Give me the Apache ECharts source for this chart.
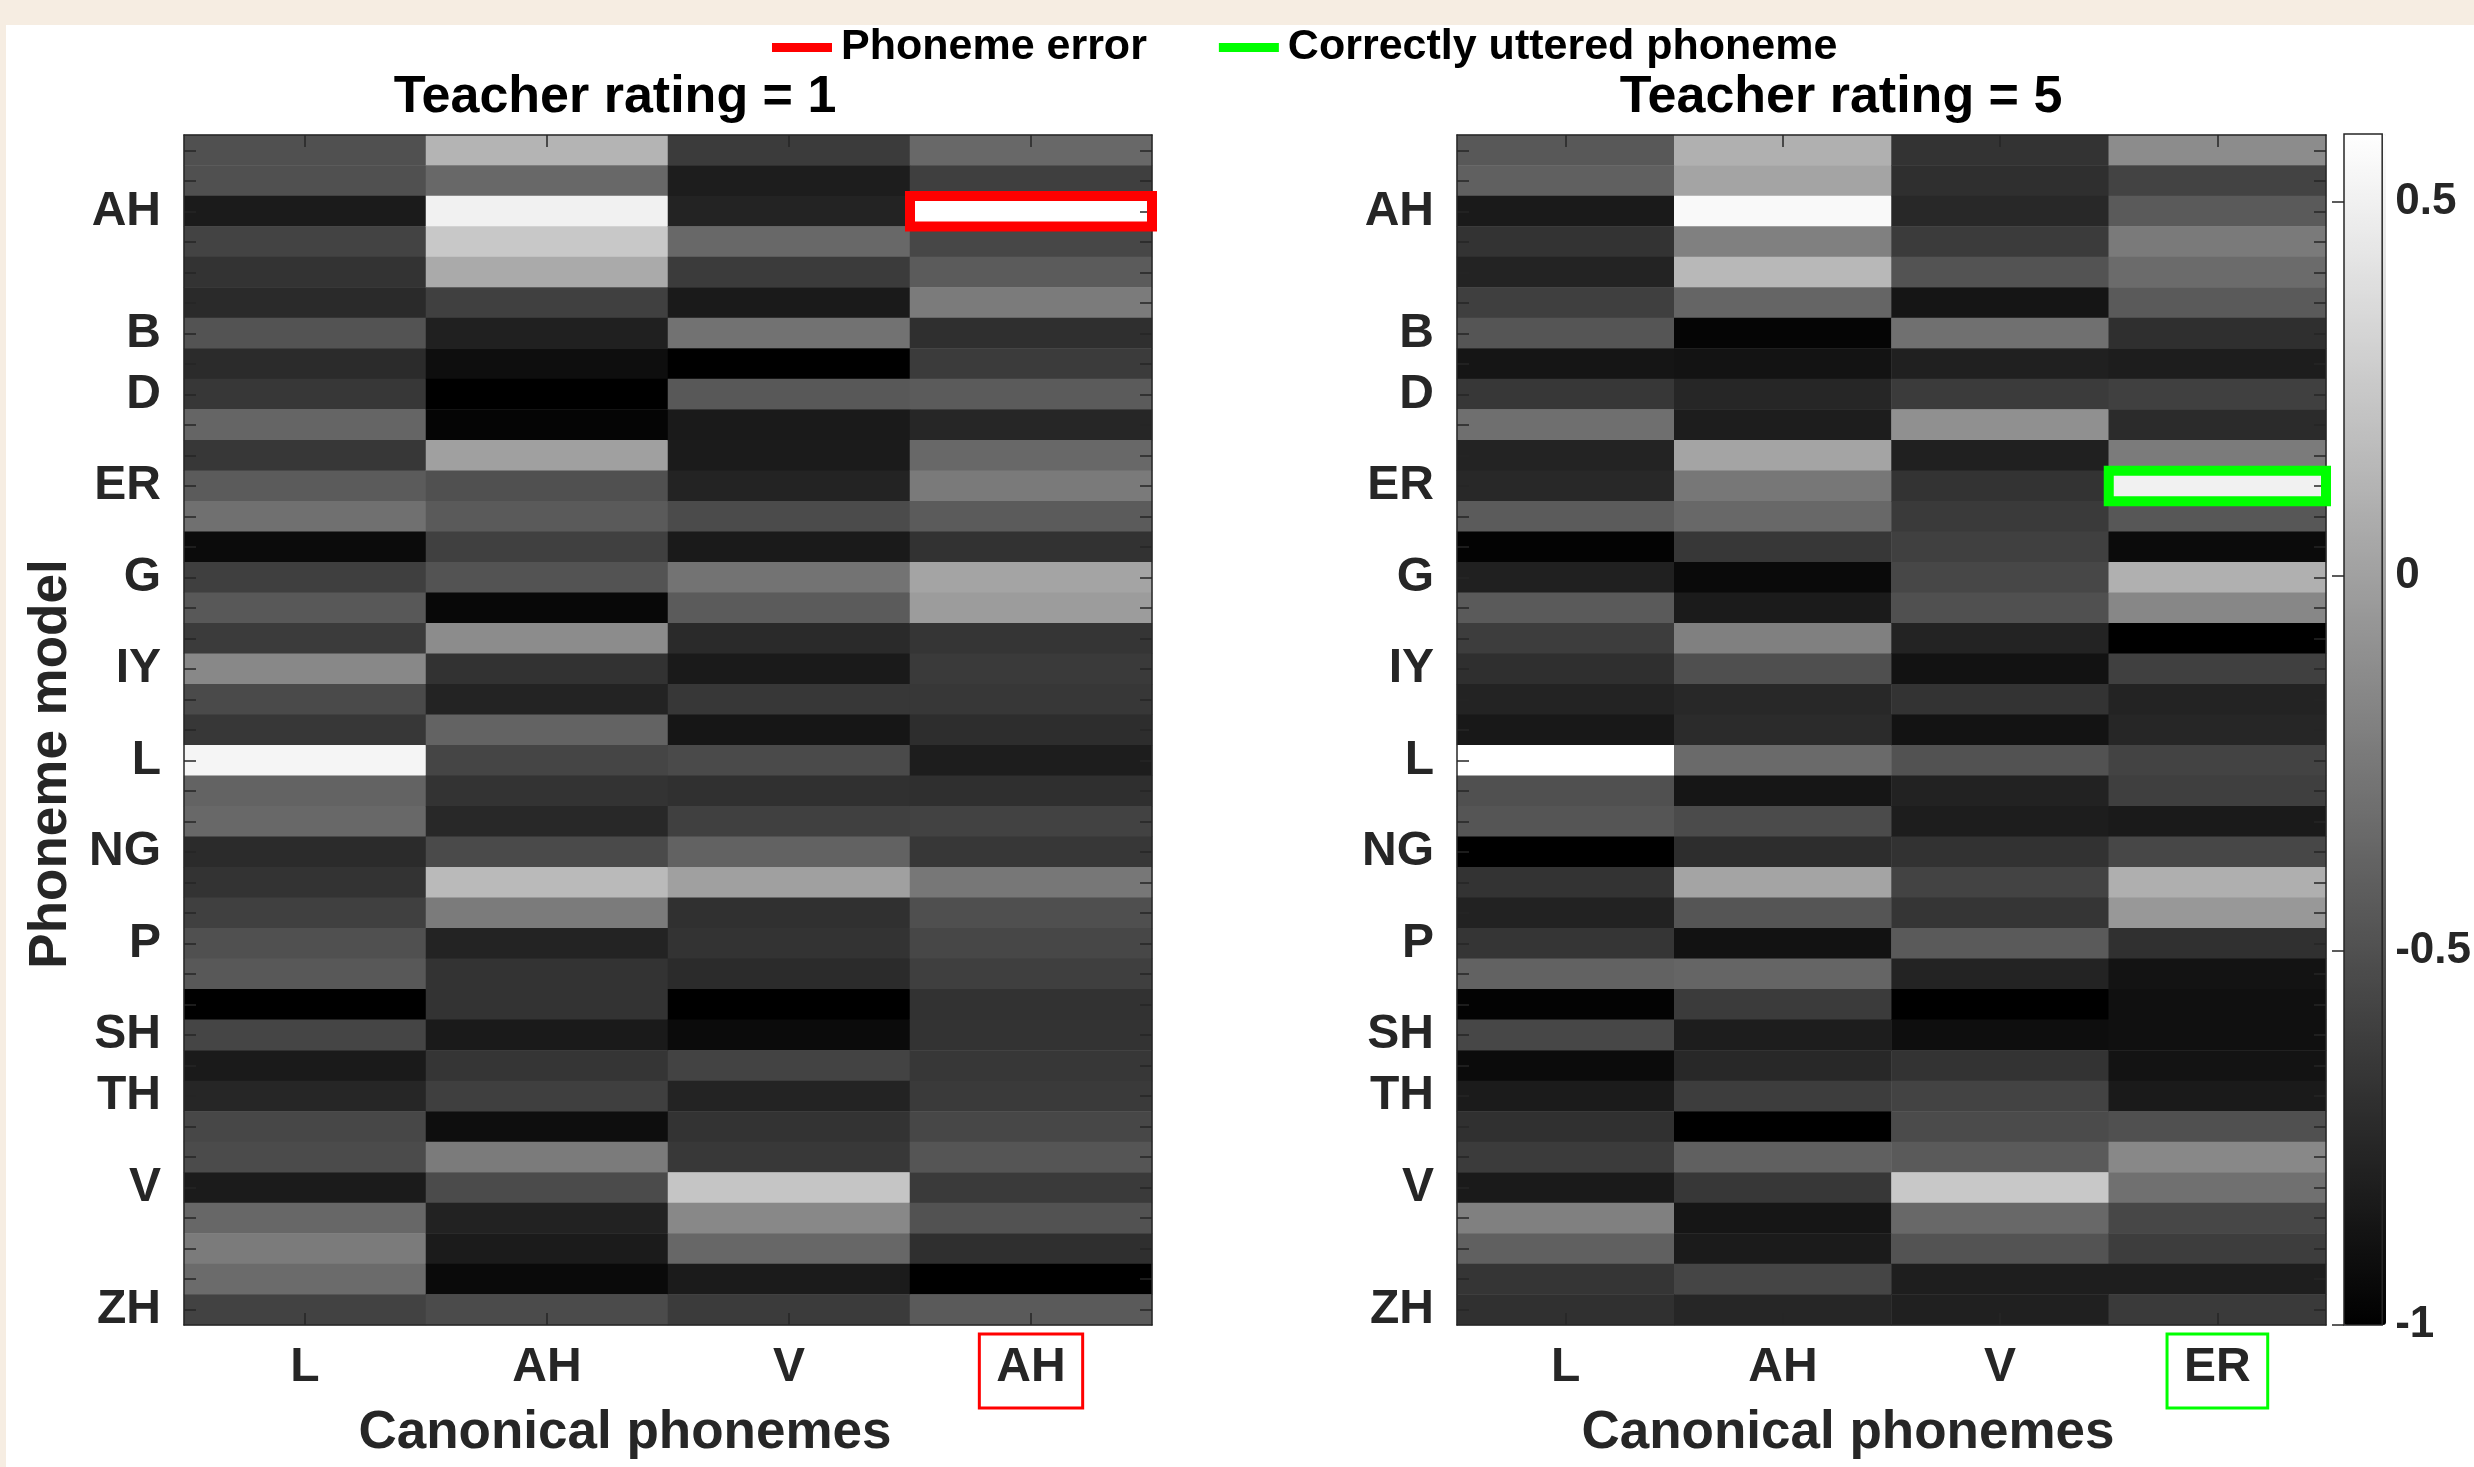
<!DOCTYPE html>
<html>
<head>
<meta charset="utf-8">
<script src="https://cdn.jsdelivr.net/npm/echarts@6/dist/echarts.min.js"></script>
<style>
  html, body { margin: 0; padding: 0; background: #f6ede2; }
  #chart { width: 2474px; height: 1467px; }
</style>
</head>
<body>
<div id="chart"></div>
<script>
// ---- Data ----
const phonemes = ['AA','AE','AH','AO','AW','AY','B','CH','D','DH','EH','ER','EY','F','G','HH','IH','IY','JH','K',
  'L','M','N','NG','OW','OY','P','R','S','SH','T','TH','UH','UW','V','W','Y','Z','ZH'];
const shownLabels = ['AH','B','D','ER','G','IY','L','NG','P','SH','TH','V','ZH'];
const canonicalLeft = ['L','AH','V','AH'];
const canonicalRight = ['L','AH','V','ER'];

// Teacher rating = 1 (columns: L, AH, V, AH)
const r1_L   = [-0.50,-0.50,-0.83,-0.58,-0.68,-0.74,-0.48,-0.73,-0.66,-0.37,-0.66,-0.43,-0.30,-0.93,-0.61,-0.45,-0.63,-0.15,-0.54,-0.66,
                 0.53,-0.38,-0.35,-0.73,-0.68,-0.60,-0.50,-0.45,-1.00,-0.57,-0.84,-0.76,-0.56,-0.53,-0.83,-0.36,-0.23,-0.33,-0.59];
const r1_AH  = [ 0.12,-0.35, 0.50, 0.25, 0.06,-0.60,-0.80,-0.91,-1.00,-0.97, 0.00,-0.50,-0.44,-0.60,-0.48,-0.95,-0.13,-0.69,-0.78,-0.38,
                -0.57,-0.68,-0.75,-0.54, 0.16,-0.23,-0.78,-0.68,-0.68,-0.84,-0.67,-0.61,-0.91,-0.23,-0.53,-0.79,-0.83,-0.94,-0.53];
const r1_V   = [-0.63,-0.82,-0.78,-0.35,-0.63,-0.84,-0.29,-1.00,-0.45,-0.84,-0.83,-0.78,-0.53,-0.84,-0.28,-0.43,-0.74,-0.84,-0.66,-0.86,
                -0.54,-0.70,-0.60,-0.39, 0.00,-0.70,-0.68,-0.73,-1.00,-0.93,-0.58,-0.78,-0.68,-0.65, 0.23,-0.15,-0.36,-0.83,-0.63];
const r1_AH2 = [-0.35,-0.61, 0.59,-0.56,-0.43,-0.23,-0.71,-0.63,-0.43,-0.76,-0.35,-0.24,-0.43,-0.69, 0.02,-0.03,-0.67,-0.64,-0.66,-0.72,
                -0.82,-0.71,-0.59,-0.66,-0.26,-0.51,-0.56,-0.61,-0.69,-0.68,-0.66,-0.64,-0.56,-0.47,-0.64,-0.49,-0.71,-1.00,-0.44];

// Teacher rating = 5 (columns: L, AH, V, ER)
const r5_L   = [-0.45,-0.40,-0.84,-0.68,-0.78,-0.61,-0.47,-0.87,-0.66,-0.31,-0.78,-0.75,-0.43,-0.98,-0.80,-0.44,-0.62,-0.71,-0.78,-0.85,
                 0.59,-0.50,-0.47,-1.00,-0.68,-0.79,-0.67,-0.39,-0.98,-0.56,-0.93,-0.83,-0.70,-0.63,-0.84,-0.20,-0.40,-0.67,-0.70];
const r5_AH  = [ 0.10, 0.02, 0.55,-0.20, 0.15,-0.37,-0.97,-0.88,-0.76,-0.82, 0.02,-0.26,-0.35,-0.66,-0.94,-0.83,-0.20,-0.51,-0.75,-0.73,
                -0.34,-0.86,-0.53,-0.72, 0.02,-0.47,-0.89,-0.37,-0.63,-0.82,-0.75,-0.62,-1.00,-0.40,-0.66,-0.86,-0.83,-0.57,-0.76];
const r5_V   = [-0.68,-0.71,-0.75,-0.63,-0.48,-0.87,-0.30,-0.80,-0.63,-0.10,-0.80,-0.68,-0.64,-0.60,-0.56,-0.50,-0.78,-0.89,-0.68,-0.88,
                -0.49,-0.79,-0.82,-0.69,-0.58,-0.67,-0.44,-0.78,-1.00,-0.91,-0.68,-0.58,-0.53,-0.44, 0.25,-0.35,-0.48,-0.81,-0.80];
const r5_ER  = [-0.13,-0.58,-0.44,-0.24,-0.33,-0.44,-0.71,-0.82,-0.60,-0.73,-0.23, 0.50,-0.46,-0.93, 0.10,-0.16,-1.00,-0.60,-0.78,-0.76,
                -0.58,-0.61,-0.84,-0.56, 0.09,-0.05,-0.70,-0.88,-0.90,-0.90,-0.88,-0.84,-0.50,-0.15,-0.30,-0.56,-0.62,-0.81,-0.64];

const colorMin = -1;
const colorMax = 0.59;

// highlighted cells: [column index, phoneme model]
const errorCell = [3, 'AH'];
const correctCell = [3, 'ER'];

// ---- Build ----
function toCells(cols) {
  const out = [];
  cols.forEach((col, x) => col.forEach((v, y) => out.push([x, y, v])));
  return out;
}
const dataLeft = toCells([r1_L, r1_AH, r1_V, r1_AH2]);
const dataRight = toCells([r5_L, r5_AH, r5_V, r5_ER]);

const FONT = '"Liberation Sans", Arial, Helvetica, sans-serif';
const AX = '#262626';

function labelRich(boxColor) {
  const base = { fontSize: 48, fontWeight: 'bold', color: AX, fontFamily: FONT, lineHeight: 48,
                 padding: [10, 17, 16, 17], borderWidth: 3 };
  return { n: Object.assign({}, base, { borderColor: 'rgba(0,0,0,0)' }),
           box: Object.assign({}, base, { borderColor: boxColor }) };
}

function xAxesFor(gridIndex, cats, boxColor) {
  return [
    { type: 'category', gridIndex, data: cats, position: 'bottom', z: 3,
      axisLine: { show: true, lineStyle: { color: AX, width: 1.5 } },
      axisTick: { show: true, inside: true, alignWithLabel: true, length: 12, lineStyle: { color: AX, width: 1.5 } },
      axisLabel: { margin: 22, interval: 0,
        formatter: (v, i) => i === 3 ? '{box|' + v + '}' : '{n|' + v + '}',
        rich: labelRich(boxColor) },
      splitLine: { show: false } },
    { type: 'category', gridIndex, data: cats, position: 'top', z: 3,
      axisLine: { show: true, lineStyle: { color: AX, width: 1.5 } },
      axisTick: { show: true, inside: true, alignWithLabel: true, length: 12, lineStyle: { color: AX, width: 1.5 } },
      axisLabel: { show: false }, splitLine: { show: false } }
  ];
}
function yAxesFor(gridIndex) {
  return [
    { type: 'category', gridIndex, data: phonemes, inverse: true, position: 'left', z: 3,
      axisLine: { show: true, lineStyle: { color: AX, width: 1.5 } },
      axisTick: { show: true, inside: true, alignWithLabel: true, interval: 0, length: 12, lineStyle: { color: AX, width: 1.5 } },
      axisLabel: { interval: (i, v) => shownLabels.includes(v), fontSize: 48, fontWeight: 'bold', color: AX,
                   fontFamily: FONT, margin: 23 },
      splitLine: { show: false } },
    { type: 'category', gridIndex, data: phonemes, inverse: true, position: 'right', z: 3,
      axisLine: { show: true, lineStyle: { color: AX, width: 1.5 } },
      axisTick: { show: true, inside: true, alignWithLabel: true, interval: 0, length: 12, lineStyle: { color: AX, width: 1.5 } },
      axisLabel: { show: false }, splitLine: { show: false } }
  ];
}

function boxRenderer(color) {
  return function (params, api) {
    const c = api.coord([api.value(0), api.value(1)]);
    const s = api.size([1, 1]);
    return { type: 'rect',
      shape: { x: c[0] - s[0] / 2, y: c[1] - s[1] / 2, width: s[0], height: s[1] },
      style: { fill: 'none', stroke: color, lineWidth: 10 } };
  };
}

const xL = xAxesFor(0, canonicalLeft, '#ff0000');
const xR = xAxesFor(1, canonicalRight, '#00ff00');
const yL = yAxesFor(0);
const yR = yAxesFor(1);

const chart = echarts.init(document.getElementById('chart'), null, { renderer: 'canvas' });
const option = {
  backgroundColor: '#f6ede2',
  animation: false,
  textStyle: { fontFamily: FONT },
  graphic: [
    { type: 'rect', z: -100, silent: true, shape: { x: 6, y: 25, width: 2468, height: 1442 }, style: { fill: '#ffffff' } },
    { type: 'text', x: 615, y: 98, style: { text: 'Teacher rating = 1', fontSize: 52, fontWeight: 'bold', fontFamily: FONT, fill: '#000', align: 'center', verticalAlign: 'middle' } },
    { type: 'text', x: 1841, y: 98, style: { text: 'Teacher rating = 5', fontSize: 52, fontWeight: 'bold', fontFamily: FONT, fill: '#000', align: 'center', verticalAlign: 'middle' } },
    { type: 'text', x: 625, y: 1433, style: { text: 'Canonical phonemes', fontSize: 53, fontWeight: 'bold', fontFamily: FONT, fill: AX, align: 'center', verticalAlign: 'middle' } },
    { type: 'text', x: 1848, y: 1433, style: { text: 'Canonical phonemes', fontSize: 53, fontWeight: 'bold', fontFamily: FONT, fill: AX, align: 'center', verticalAlign: 'middle' } },
    { type: 'text', x: 51, y: 764, rotation: Math.PI / 2, style: { text: 'Phoneme model', fontSize: 53, fontWeight: 'bold', fontFamily: FONT, fill: AX, align: 'center', verticalAlign: 'middle' } }
  ],
  legend: {
    left: 772, top: 26, itemWidth: 60, itemHeight: 9, itemGap: 72, selectedMode: false, padding: 0,
    textStyle: { fontSize: 43, fontWeight: 'bold', color: '#000', fontFamily: FONT, padding: [0, 0, 0, 4] },
    data: [
      { name: 'Phoneme error', icon: 'rect', itemStyle: { color: '#ff0000' } },
      { name: 'Correctly uttered phoneme', icon: 'rect', itemStyle: { color: '#00ff00' } }
    ]
  },
  grid: [
    { left: 184, top: 135, width: 968, height: 1190 },
    { left: 1457, top: 135, width: 869, height: 1190 },
    { left: 2344, top: 134, width: 42, height: 1191, show: true, borderColor: AX, borderWidth: 1.5, backgroundColor: 'rgba(0,0,0,0)', z: 6 }
  ],
  xAxis: [xL[0], xL[1], xR[0], xR[1],
    { type: 'value', gridIndex: 2, show: false, min: 0, max: 1 }],
  yAxis: [yL[0], yL[1], yR[0], yR[1],
    { type: 'value', gridIndex: 2, position: 'right', min: colorMin, max: colorMax, interval: 0.5, z: 6,
      axisLine: { show: false },
      axisTick: { show: true, inside: true, length: 12, lineStyle: { color: AX, width: 1.5 } },
      axisLabel: { showMaxLabel: false, margin: 13, fontSize: 44, fontWeight: 'bold', color: AX, fontFamily: FONT,
                   padding: [6, 0, 0, 0] },
      splitLine: { show: false } }],
  visualMap: {
    type: 'continuous', min: colorMin, max: colorMax, seriesIndex: [0, 1], orient: 'vertical',
    left: 2344, top: 134, itemWidth: 42, itemHeight: 1191, padding: 0, calculable: false, hoverLink: false,
    inRange: { color: ['#000000', '#ffffff'] }, z: 1, textStyle: { fontSize: 0 }
  },
  series: [
    { type: 'heatmap', xAxisIndex: 0, yAxisIndex: 0, data: dataLeft, progressive: 0,
      itemStyle: { borderWidth: 0 }, emphasis: { disabled: true } },
    { type: 'heatmap', xAxisIndex: 2, yAxisIndex: 2, data: dataRight, progressive: 0,
      itemStyle: { borderWidth: 0 }, emphasis: { disabled: true } },
    { type: 'custom', name: 'Phoneme error', xAxisIndex: 0, yAxisIndex: 0, z: 5,
      itemStyle: { color: '#ff0000' }, renderItem: boxRenderer('#ff0000'),
      data: [[errorCell[0], phonemes.indexOf(errorCell[1])]] },
    { type: 'custom', name: 'Correctly uttered phoneme', xAxisIndex: 2, yAxisIndex: 2, z: 5,
      itemStyle: { color: '#00ff00' }, renderItem: boxRenderer('#00ff00'),
      data: [[correctCell[0], phonemes.indexOf(correctCell[1])]] }
  ]
};
chart.setOption(option);
</script>
</body>
</html>
